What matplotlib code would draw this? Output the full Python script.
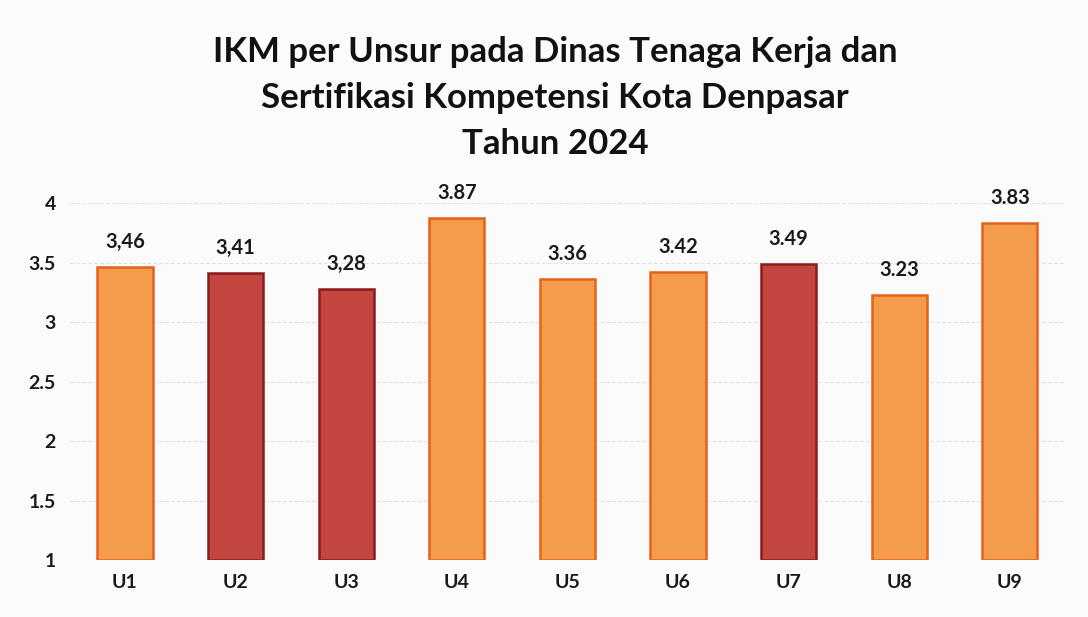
import matplotlib.pyplot as plt

plt.rcParams['font.family'] = ['Lato', 'DejaVu Sans']

unsur = ['U1', 'U2', 'U3', 'U4', 'U5', 'U6', 'U7', 'U8', 'U9']
nilai = [3.46, 3.41, 3.28, 3.87, 3.36, 3.42, 3.49, 3.23, 3.83]
label_nilai = ['3,46', '3,41', '3,28', '3.87', '3.36', '3.42', '3.49', '3.23', '3.83']
merah = [False, True, True, False, False, False, True, False, False]

fig = plt.figure(figsize=(10.88, 6.17), dpi=100, facecolor='#fbfbfb')
ax = fig.add_axes([0.064, 0.092, 0.915, 0.579])
ax.set_facecolor('#fbfbfb')

for i, (v, m) in enumerate(zip(nilai, merah)):
    fill = '#c2453f' if m else '#f59b4c'
    edge = '#8c1c1c' if m else '#e5621c'
    ax.bar(i, v - 1, bottom=1, width=0.5, color=fill, edgecolor=edge, linewidth=1.8, zorder=3)
    ax.text(i, v + 0.21, label_nilai[i], ha='center', va='center',
            fontsize=14.5, fontweight='bold', color='#1a1a1a', clip_on=False)

ax.set_xlim(-0.5, 8.5)
ax.set_ylim(1, 4)
ax.set_yticks([1, 1.5, 2, 2.5, 3, 3.5, 4])
ax.set_yticklabels(['1', '1.5', '2', '2.5', '3', '3.5', '4'])
ax.set_xticks(range(len(unsur)))
ax.set_xticklabels(unsur)
ax.tick_params(axis='both', length=0, labelsize=14, colors='#1a1a1a', pad=10)
for lab in ax.get_xticklabels() + ax.get_yticklabels():
    lab.set_fontweight('bold')
ax.yaxis.grid(True, color='#e3e3e3', linestyle='--', linewidth=0.8, zorder=0)
for s in ax.spines.values():
    s.set_visible(False)

fig.text(0.51, 0.942, 'IKM per Unsur pada Dinas Tenaga Kerja dan\nSertifikasi Kompetensi Kota Denpasar\nTahun 2024',
         ha='center', va='top', fontsize=25, fontweight='bold', color='#111111', linespacing=1.54)

fig.savefig('out.png', dpi=100, facecolor=fig.get_facecolor())
